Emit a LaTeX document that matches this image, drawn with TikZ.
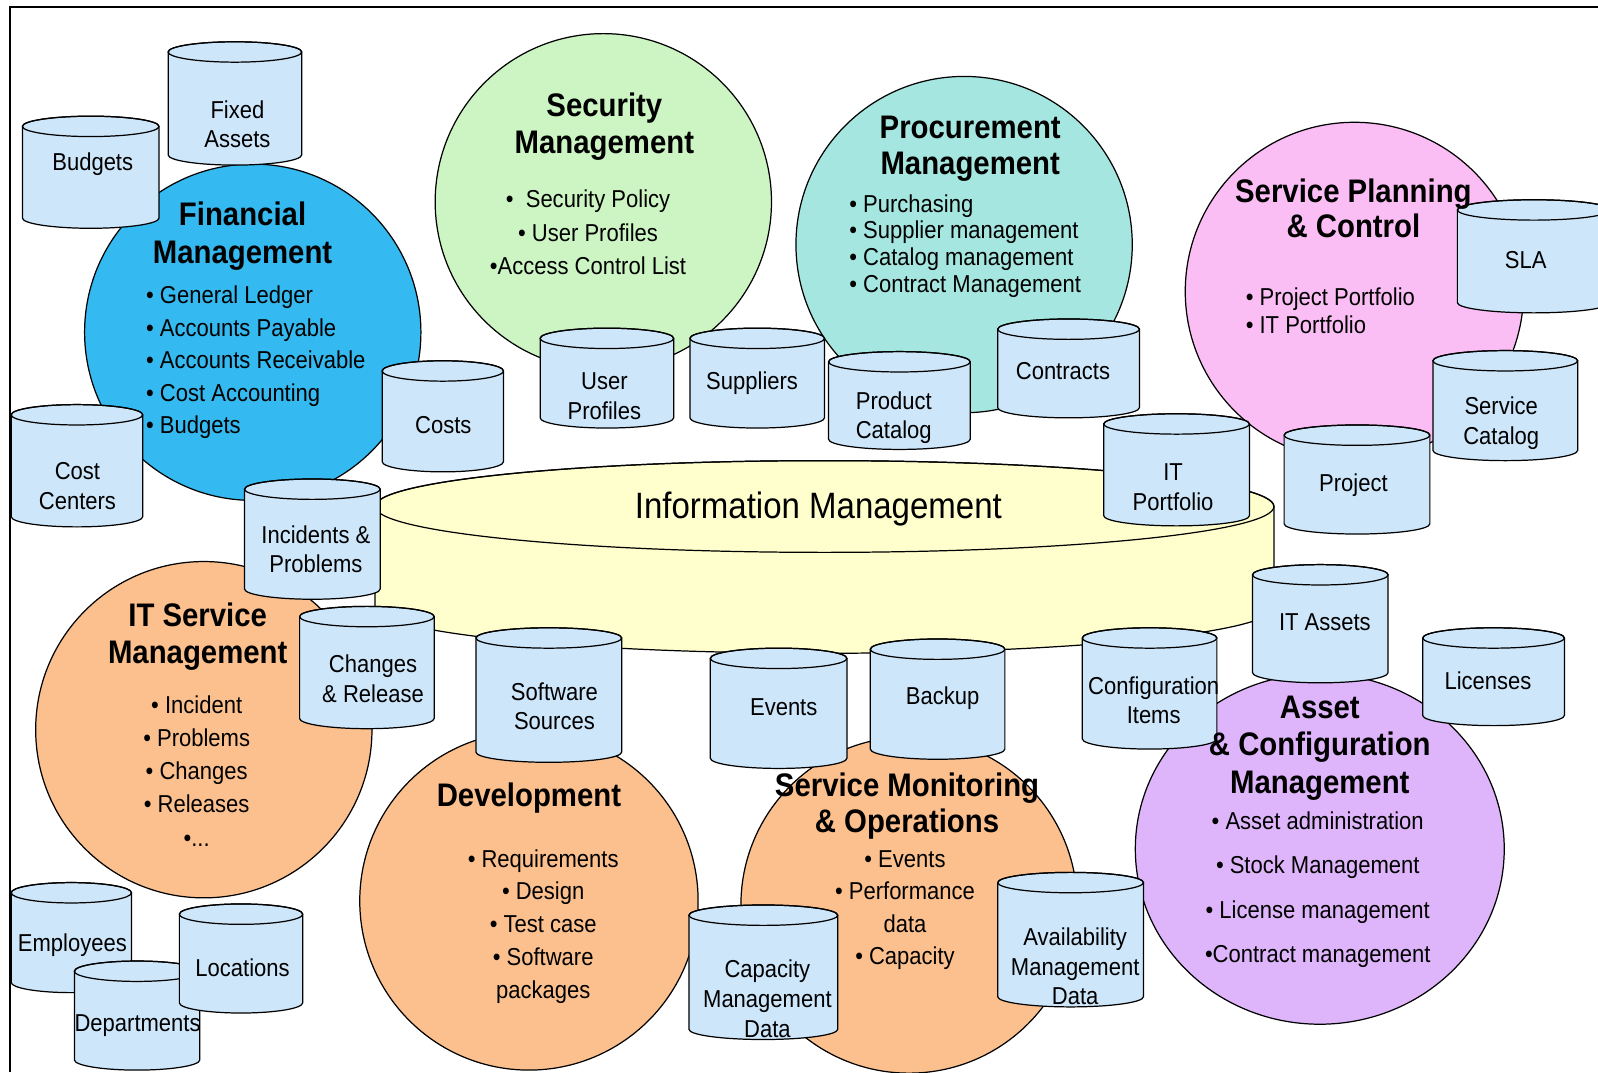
\documentclass[tikz,border=0pt]{standalone}
\usepackage{fontspec}
\setmainfont{Liberation Sans}[FakeStretch=0.9]
\usetikzlibrary{shapes.geometric}
\definecolor{fincol}{RGB}{52,186,240}
\definecolor{seccol}{RGB}{205,245,196}
\definecolor{procol}{RGB}{165,231,224}
\definecolor{spccol}{RGB}{250,190,245}
\definecolor{orgcol}{RGB}{251,192,141}
\definecolor{asscol}{RGB}{222,181,250}
\definecolor{cylcol}{RGB}{205,230,250}
\definecolor{imcol}{RGB}{255,255,205}
\tikzset{
  outl/.style={draw=black, line width=0.6pt},
  circ/.style={circle, outl, inner sep=0pt},
  oval/.style={ellipse, outl, inner sep=0pt},
  cylbody/.style={fill=cylcol, draw=black, line width=0.6pt},
  cyltext/.style={font=\fontsize{12}{14.5}\selectfont, align=center, inner sep=0pt},
  ttl/.style={font=\bfseries\fontsize{16}{18}\selectfont, align=center, inner sep=0pt},
  bul/.style={font=\fontsize{12}{16}\selectfont, inner sep=0pt},
}
\newcommand\dbcyl[8]{%
  \pgfmathsetmacro\cxA{(#2+#4)/2}%
  \pgfmathsetmacro\rxA{(#4-#2)/4}%
  \pgfmathsetmacro\kxA{0.5523*(#4-#2)/2}%
  \path[cylbody] (#2,{#3+10}) -- (#2,{#5-10})
    .. controls (#2,{#5-4.477}) and ({\cxA-\kxA},#5) .. (\cxA,#5)
    .. controls ({\cxA+\kxA},#5) and (#4,{#5-4.477}) .. (#4,{#5-10})
    -- (#4,{#3+10})
    .. controls (#4,{#3+4.477}) and ({\cxA+\kxA},#3) .. (\cxA,#3)
    .. controls ({\cxA-\kxA},#3) and (#2,{#3+4.477}) .. cycle;
  \draw[line width=0.6pt] (\cxA,{#3+10}) ellipse [x radius=\rxA pt, y radius=5pt];
  \node[cyltext] (#1) at (#6,#7) {#8};
}
\begin{document}
\begin{tikzpicture}[x=0.5pt,y=-0.5pt]
\useasboundingbox (0,0) rectangle (1568,1052);
\fill[white] (0,0) rectangle (1568,1052);
\begin{scope}
\clip (10,7) rectangle (1568,1052);
% Information Management
\path[cylbody, fill=imcol] (368,497) -- (368,596)
  .. controls (368,620.85) and (566,641) .. (809,641)
  .. controls (1052,641) and (1250,620.85) .. (1250,596)
  -- (1250,497)
  .. controls (1250,472.15) and (1052,452) .. (809,452)
  .. controls (566,452) and (368,472.15) .. cycle;
\draw[line width=0.6pt] (809,497) ellipse [x radius=220.5pt, y radius=22.5pt];
\node[font=\fontsize{18}{20}\selectfont, inner sep=0pt] (im) at (803,499) {Information Management};
% circles
\node[circ, fill=fincol, minimum size=165pt] (fin) at (248,326) {};
\node[circ, fill=seccol, minimum size=165pt] (sec) at (592,198) {};
\node[circ, fill=procol, minimum size=165pt] (pro) at (946,240) {};
\node[circ, fill=spccol, minimum size=166pt] (spc) at (1329,286) {};
\node[circ, fill=orgcol, minimum size=165pt] (itsm) at (200,716) {};
\node[circ, fill=orgcol, minimum size=166pt] (dev) at (519,884) {};
\node[circ, fill=orgcol, minimum size=165pt] (smo) at (892,888) {};
\node[oval, fill=asscol, minimum width=181pt, minimum height=172pt] (acm) at (1295,833) {};
% cylinders
\dbcyl{fixed}{165}{41}{296}{162}{233}{122}{Fixed\\Assets}
\dbcyl{budgets}{22}{114}{156}{224}{91}{161.5}{Budgets}
\dbcyl{costs}{375}{354}{494}{463}{435}{417}{Costs}
\dbcyl{costcenters}{11}{397}{140}{517}{76}{477}{Cost\\Centers}
\dbcyl{incidents}{240}{470}{373}{588}{310}{539}{Incidents \&\\Problems}
\dbcyl{userprof}{530}{322}{661}{420}{593}{388.5}{User\\Profiles}
\dbcyl{suppliers}{677}{322}{809}{420}{738}{375.5}{Suppliers}
\dbcyl{prodcat}{813}{345}{952}{441}{877}{410}{Product\\Catalog}
\dbcyl{contracts}{979}{313}{1118}{410}{1043}{364.5}{Contracts}
\dbcyl{itport}{1083}{406}{1226}{516}{1151}{478}{IT\\Portfolio}
\dbcyl{sla}{1430}{196}{1580}{307}{1497}{255.5}{SLA}
\dbcyl{servcat}{1406}{344}{1548}{452}{1473}{415}{Service\\Catalog}
\dbcyl{project}{1260}{417}{1403}{524}{1328}{476}{Project}
\dbcyl{changes}{294}{595}{426}{715}{366}{666}{Changes\\\& Release}
\dbcyl{softsrc}{467}{616}{610}{748}{544}{693}{Software\\Sources}
\dbcyl{events}{697}{636}{831}{754}{769}{694}{Events}
\dbcyl{backup}{854}{627}{986}{745}{925}{685}{Backup}
\dbcyl{confitems}{1062}{616}{1194}{735}{1132}{687}{Configuration\\Items}
\dbcyl{itassets}{1229}{554}{1362}{670}{1300}{611}{IT Assets}
\dbcyl{licenses}{1396}{616}{1535}{712}{1460}{668}{Licenses}
\dbcyl{employees}{11}{866}{129}{974}{71}{927}{Employees}
\dbcyl{departments}{73}{943}{196}{1050}{135}{1006}{Departments}
\dbcyl{locations}{176}{887}{297}{994}{238}{950}{Locations}
\dbcyl{capacity}{676}{888}{822}{1020}{753}{980}{Capacity\\Management\\Data}
\dbcyl{avail}{979}{856}{1122}{988}{1055}{948.5}{Availability\\Management\\Data}
% circle texts
\node[ttl, font=\bfseries\fontsize{16}{18.5}\selectfont] (finT) at (238,231.5) {Financial\\Management};
\node[bul, align=left, anchor=west, font=\fontsize{12}{15.9}\selectfont] (finB) at (143,355.5) {• General Ledger\\• Accounts Payable\\• Accounts Receivable\\• Cost Accounting\\• Budgets};
\node[ttl] (secT) at (593,124) {Security\\Management};
\node[bul, align=center, font=\fontsize{12}{16.25}\selectfont] (secB) at (577,228) {•\ \ Security Policy\\• User Profiles\\•Access Control List};
\node[ttl, font=\bfseries\fontsize{16}{17.5}\selectfont] (proT) at (952,146) {Procurement\\Management};
\node[bul, align=left, anchor=west, font=\fontsize{12}{13.2}\selectfont] (proB) at (833,241.5) {• Purchasing\\• Supplier management\\• Catalog management\\• Contract Management};
\node[ttl, font=\bfseries\fontsize{16}{17.5}\selectfont] (spcT) at (1328,204.5) {Service Planning\\\& Control};
\node[bul, align=left, anchor=west, font=\fontsize{12}{13.5}\selectfont] (spcB) at (1222,305) {• Project Portfolio\\• IT Portfolio};
\node[ttl] (itsmT) at (194,625) {IT Service\\Management};
\node[bul, align=center, font=\fontsize{12}{16.25}\selectfont] (itsmB) at (193,756.5) {• Incident\\• Problems\\• Changes\\• Releases\\•...};
\node[ttl] (devT) at (519,783) {Development};
\node[bul, align=center, font=\fontsize{12}{16.1}\selectfont] (devB) at (533,909) {• Requirements\\• Design\\• Test case\\• Software\\packages};
\node[ttl] (smoT) at (890,791) {Service Monitoring\\\& Operations};
\node[bul, align=center, font=\fontsize{12}{16}\selectfont] (smoB) at (888,893) {• Events\\• Performance\\data\\• Capacity};
\node[ttl, font=\bfseries\fontsize{16}{18.25}\selectfont] (acmT) at (1295,734) {Asset\\\& Configuration\\Management};
\node[bul, align=center, font=\fontsize{12}{21.7}\selectfont] (acmB) at (1293,873) {• Asset administration\\• Stock Management\\• License management\\•Contract management};
\end{scope}
\draw[line width=0.8pt] (10,1052) -- (10,7) -- (1568,7);
\end{tikzpicture}
\end{document}
